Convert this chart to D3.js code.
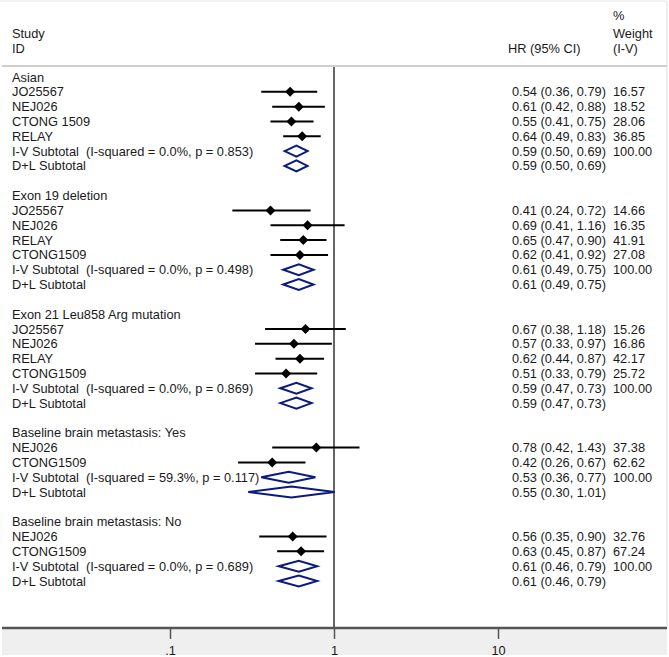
<!DOCTYPE html>
<html>
<head>
<meta charset="utf-8">
<script src="https://cdn.jsdelivr.net/npm/d3@7"></script>
<style>
  html, body { margin: 0; padding: 0; background: #fff; }
  svg { display: block; font-family: "Liberation Sans", Arial, sans-serif; }
  text { white-space: pre; }
</style>
</head>
<body>
<svg id="chart" width="669" height="657"></svg>
<script>
// row kinds: g = group heading, s = study, iv = I-V subtotal, dl = D+L subtotal, b = blank
const rowKind = [
  'g','s','s','s','s','iv','dl','b',
  'g','s','s','s','s','iv','dl','b',
  'g','s','s','s','s','iv','dl','b',
  'g','s','s','iv','dl','b',
  'g','s','s','iv','dl'
];
const rowLabel = [
  'Asian','JO25567','NEJ026','CTONG 1509','RELAY','I-V Subtotal  (I-squared = 0.0%, p = 0.853)','D+L Subtotal','',
  'Exon 19 deletion','JO25567','NEJ026','RELAY','CTONG1509','I-V Subtotal  (I-squared = 0.0%, p = 0.498)','D+L Subtotal','',
  'Exon 21 Leu858 Arg mutation','JO25567','NEJ026','RELAY','CTONG1509','I-V Subtotal  (I-squared = 0.0%, p = 0.869)','D+L Subtotal','',
  'Baseline brain metastasis: Yes','NEJ026','CTONG1509','I-V Subtotal  (I-squared = 59.3%, p = 0.117)','D+L Subtotal','',
  'Baseline brain metastasis: No','NEJ026','CTONG1509','I-V Subtotal  (I-squared = 0.0%, p = 0.689)','D+L Subtotal'
];
const hr = [
  null,0.54,0.61,0.55,0.64,0.59,0.59,null,
  null,0.41,0.69,0.65,0.62,0.61,0.61,null,
  null,0.67,0.57,0.62,0.51,0.59,0.59,null,
  null,0.78,0.42,0.53,0.55,null,
  null,0.56,0.63,0.61,0.61
];
const ciLow = [
  null,0.36,0.42,0.41,0.49,0.50,0.50,null,
  null,0.24,0.41,0.47,0.41,0.49,0.49,null,
  null,0.38,0.33,0.44,0.33,0.47,0.47,null,
  null,0.42,0.26,0.36,0.30,null,
  null,0.35,0.45,0.46,0.46
];
const ciHigh = [
  null,0.79,0.88,0.75,0.83,0.69,0.69,null,
  null,0.72,1.16,0.90,0.92,0.75,0.75,null,
  null,1.18,0.97,0.87,0.79,0.73,0.73,null,
  null,1.43,0.67,0.77,1.01,null,
  null,0.90,0.87,0.79,0.79
];
const weight = [
  '','16.57','18.52','28.06','36.85','100.00','','',
  '','14.66','16.35','41.91','27.08','100.00','','',
  '','15.26','16.86','42.17','25.72','100.00','','',
  '','37.38','62.62','100.00','','',
  '','32.76','67.24','100.00',''
];
const tickValues = [0.1, 1, 10];
const tickLabels = ['.1', '1', '10'];

const svg = d3.select('#chart');
const fontSize = 12.8;

const x = d3.scaleLog().domain([0.1, 10]).range([170, 498]);
const y = d3.scaleLinear().domain([0, rowKind.length - 1]).range([77, 581]);

// frame
svg.append('line').attr('x1', 0).attr('x2', 667).attr('y1', 1).attr('y2', 1)
  .attr('stroke', '#e8e8e8').attr('stroke-width', 1);
svg.append('line').attr('x1', 667).attr('x2', 667).attr('y1', 1).attr('y2', 628)
  .attr('stroke', '#e8e8e8').attr('stroke-width', 1.5);
// bottom gray band
svg.append('rect').attr('x', 2).attr('y', 628).attr('width', 665).attr('height', 27)
  .attr('fill', '#efefef');

// header
const header = svg.append('g').attr('font-size', fontSize).attr('fill', '#1a1a1a');
header.append('text').attr('x', 12).attr('y', 38).text('Study');
header.append('text').attr('x', 12).attr('y', 53).text('ID');
header.append('text').attr('x', 508).attr('y', 53).text('HR (95% CI)');
header.append('text').attr('x', 613).attr('y', 20).text('%');
header.append('text').attr('x', 613).attr('y', 38).text('Weight');
header.append('text').attr('x', 613).attr('y', 53).text('(I-V)');
svg.append('line').attr('x1', 2).attr('x2', 667).attr('y1', 66).attr('y2', 66)
  .attr('stroke', '#cfcfcf').attr('stroke-width', 2);

// null line
svg.append('line').attr('x1', x(1)).attr('x2', x(1)).attr('y1', 67).attr('y2', 628)
  .attr('stroke', '#333').attr('stroke-width', 1.5);

const rows = rowKind.map((k, i) => ({
  kind: k, label: rowLabel[i], hr: hr[i], lo: ciLow[i], hi: ciHigh[i], w: weight[i], i
}));

// labels
svg.append('g').attr('font-size', fontSize).attr('fill', '#1a1a1a')
  .selectAll('text').data(rows.filter(d => d.label)).join('text')
  .attr('x', 12).attr('y', d => y(d.i) + 4.5)
  .attr('xml:space', 'preserve')
  .text(d => d.label);

// HR text
const fmt = d3.format('.2f');
svg.append('g').attr('font-size', fontSize).attr('fill', '#1a1a1a')
  .selectAll('text').data(rows.filter(d => d.hr != null)).join('text')
  .attr('x', 512).attr('y', d => y(d.i) + 4.5)
  .text(d => `${fmt(d.hr)} (${fmt(d.lo)}, ${fmt(d.hi)})`);

// weight text
svg.append('g').attr('font-size', fontSize).attr('fill', '#1a1a1a')
  .selectAll('text').data(rows.filter(d => d.w)).join('text')
  .attr('x', 613).attr('y', d => y(d.i) + 4.5).text(d => d.w);

// study CIs and points
const studies = rows.filter(d => d.kind === 's');
svg.append('g').selectAll('line').data(studies).join('line')
  .attr('x1', d => x(d.lo)).attr('x2', d => x(d.hi))
  .attr('y1', d => y(d.i)).attr('y2', d => y(d.i))
  .attr('stroke', '#000').attr('stroke-width', 2);
const ps = 5;
svg.append('g').selectAll('path').data(studies).join('path')
  .attr('d', d => {
    const cx = x(d.hr), cy = y(d.i);
    return `M${cx - ps},${cy}L${cx},${cy - ps}L${cx + ps},${cy}L${cx},${cy + ps}Z`;
  })
  .attr('fill', '#000');

// pooled diamonds
const pooled = rows.filter(d => d.kind === 'iv' || d.kind === 'dl');
const dh = 5.5;
svg.append('g').selectAll('path').data(pooled).join('path')
  .attr('d', d => {
    const cy = y(d.i);
    return `M${x(d.lo)},${cy}L${x(d.hr)},${cy - dh}L${x(d.hi)},${cy}L${x(d.hr)},${cy + dh}Z`;
  })
  .attr('fill', '#fff').attr('stroke', '#0a1a80').attr('stroke-width', 2)
  .attr('stroke-linejoin', 'miter');

// x axis
svg.append('line').attr('x1', 2).attr('x2', 667).attr('y1', 628).attr('y2', 628)
  .attr('stroke', '#555').attr('stroke-width', 2.5);
const axis = d3.axisBottom(x).tickValues(tickValues)
  .tickFormat((d, i) => tickLabels[i]).tickSize(10).tickPadding(7);
const ax = svg.append('g').attr('transform', 'translate(0,629)').call(axis);
ax.select('.domain').remove();
ax.selectAll('.tick line').attr('stroke', '#555').attr('stroke-width', 1.5);
ax.selectAll('.tick text').attr('font-size', fontSize).attr('fill', '#1a1a1a')
  .attr('font-family', '"Liberation Sans", Arial, sans-serif');
</script>
</body>
</html>
